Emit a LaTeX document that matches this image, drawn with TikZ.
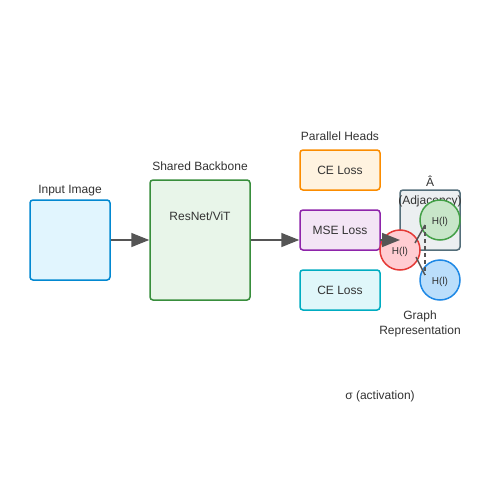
\documentclass[tikz,border=0pt]{standalone}
\usepackage{fontspec}
\setmainfont{Liberation Sans}
\usetikzlibrary{arrows.meta}
\definecolor{txt}{HTML}{333333}
\definecolor{arr}{HTML}{555555}
\definecolor{inF}{HTML}{E1F5FE}\definecolor{inD}{HTML}{0288D1}
\definecolor{bbF}{HTML}{E8F5E9}\definecolor{bbD}{HTML}{388E3C}
\definecolor{c1F}{HTML}{FFF3E0}\definecolor{c1D}{HTML}{FB8C00}
\definecolor{msF}{HTML}{F3E5F5}\definecolor{msD}{HTML}{8E24AA}
\definecolor{c2F}{HTML}{E0F7FA}\definecolor{c2D}{HTML}{00ACC1}
\definecolor{adF}{HTML}{ECEFF1}\definecolor{adD}{HTML}{546E7A}
\definecolor{grF}{HTML}{C8E6C9}\definecolor{grD}{HTML}{43A047}
\definecolor{blF}{HTML}{BBDEFB}\definecolor{blD}{HTML}{1E88E5}
\definecolor{rdF}{HTML}{FFCDD2}\definecolor{rdD}{HTML}{E53935}
\begin{document}
\begin{tikzpicture}[x=1pt,y=-1pt,
  box/.style={draw,line width=1.5pt,rounded corners=3pt,minimum width=#1,inner sep=0pt},
  lbl/.style={text=txt,font=\fontsize{12}{14}\selectfont,inner sep=0pt},
  circ/.style={circle,draw,line width=1.5pt,minimum size=40pt,inner sep=0pt,
     label={[text=txt,font=\fontsize{10}{12}\selectfont,inner sep=0pt,yshift=-1.5pt]center:H(l)}},
  conn/.style={draw=arr,line width=1.5pt,-{Triangle[length=18pt,width=14pt]}},
  edge/.style={draw=arr,line width=1.5pt}]
\useasboundingbox (0,0) rectangle (500,500);
\fill[white] (0,0) rectangle (500,500);
% boxes
\node[box=80pt,minimum height=80pt,fill=inF,draw=inD] (inp) at (70,240) {};
\node[box=100pt,minimum height=120pt,fill=bbF,draw=bbD] (bb) at (200,240) {};
\node[box=80pt,minimum height=40pt,fill=c1F,draw=c1D,lbl] (ce1) at (340,170) {CE Loss};
\node[box=80pt,minimum height=40pt,fill=msF,draw=msD,lbl] (mse) at (340,230) {MSE Loss};
\node[box=80pt,minimum height=40pt,fill=c2F,draw=c2D,lbl] (ce2) at (340,290) {CE Loss};
\node[box=60pt,minimum height=60pt,fill=adF,draw=adD] (adj) at (430,220) {};
% labels
\node[lbl] (tin) at (70,191) {Input Image};
\node[lbl] (tbb) at (200,166) {Shared Backbone};
\node[lbl] (tres) at (200,216) {ResNet/ViT};
\node[lbl] (tph) at (340,136) {Parallel Heads};
\node[lbl] (tA) at (430,181) {Â};
\node[lbl] (tadj) at (430,201) {(Adjacency)};
\node[lbl] (tg1) at (420,316) {Graph};
\node[lbl] (tg2) at (420,331) {Representation};
\node[lbl] (tsig) at (380,396) {σ (activation)};
% circles
\node[circ,fill=grF,draw=grD] (hg) at (440,220) {};
\node[circ,fill=blF,draw=blD] (hb) at (440,280) {};
\node[circ,fill=rdF,draw=rdD] (hr) at (400,250) {};
% connectors
\draw[conn] (inp.east) -- (bb.west);
\draw[conn] (bb.east) -- (mse.west |- bb.east);
\coordinate (msestart) at (380,240);
\coordinate (mseout) at (400,240);
\draw[conn] (msestart) -- (mseout);
\coordinate (g1) at (425,225);
\coordinate (b1) at (425,275);
\coordinate (r1) at (415,243);
\coordinate (r2) at (416,257);
\draw[edge] (r1) -- (g1);
\draw[edge] (r2) -- (b1);
\draw[edge,dash pattern=on 4pt off 3pt] (g1) -- (b1);
\end{tikzpicture}
\end{document}
